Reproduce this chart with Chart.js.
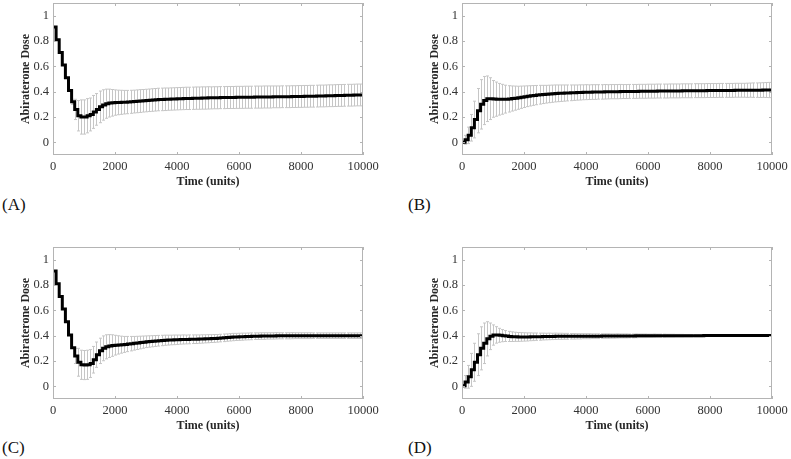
<!DOCTYPE html>
<html>
<head>
<meta charset="utf-8">
<script src="https://cdn.jsdelivr.net/npm/chart.js@4.4.1/dist/chart.umd.min.js"></script>
<style>
  body { margin: 0; background: #fff; width: 791px; height: 459px; overflow: hidden; position: relative; }
  canvas { position: absolute; }
  .lbl { position: absolute; font-family: "Liberation Serif", serif; font-size: 17px; line-height: 17px; color: #111; }
</style>
</head>
<body>
<canvas id="cA" width="395" height="190" style="left:0;top:0"></canvas>
<canvas id="cB" width="395" height="190" style="left:409px;top:0"></canvas>
<canvas id="cC" width="395" height="190" style="left:0;top:244px"></canvas>
<canvas id="cD" width="395" height="190" style="left:409px;top:244px"></canvas>
<div class="lbl" style="left:2px;top:196px">(A)</div>
<div class="lbl" style="left:408px;top:196px">(B)</div>
<div class="lbl" style="left:2px;top:439px">(C)</div>
<div class="lbl" style="left:408px;top:439px">(D)</div>
<script>
// ---------- DATA ----------
const times = [0,
  100,200,300,400,500,600,700,800,900,1000,
  1100,1200,1300,1400,1500,1600,1700,1800,1900,2000,
  2100,2200,2300,2400,2500,2600,2700,2800,2900,3000,
  3100,3200,3300,3400,3500,3600,3700,3800,3900,4000,
  4100,4200,4300,4400,4500,4600,4700,4800,4900,5000,
  5100,5200,5300,5400,5500,5600,5700,5800,5900,6000,
  6100,6200,6300,6400,6500,6600,6700,6800,6900,7000,
  7100,7200,7300,7400,7500,7600,7700,7800,7900,8000,
  8100,8200,8300,8400,8500,8600,8700,8800,8900,9000,
  9100,9200,9300,9400,9500,9600,9700,9800,9900,10000];

const xTicks = [0, 2000, 4000, 6000, 8000, 10000];
const yTicks = [0, 0.2, 0.4, 0.6, 0.8, 1];

// (A)
const meanA = [0.91,
  0.81,0.71,0.61,0.51,0.41,0.32,0.26,0.21,0.20,0.20,
  0.21,0.22,0.24,0.26,0.28,0.295,0.305,0.31,0.312,0.314,
  0.315,0.316,0.317,0.318,0.32,0.322,0.324,0.326,0.328,0.33,
  0.332,0.334,0.336,0.338,0.339,0.34,0.341,0.342,0.343,0.344,
  0.345,0.346,0.347,0.347,0.348,0.349,0.349,0.35,0.35,0.351,
  0.351,0.352,0.352,0.353,0.353,0.354,0.354,0.354,0.355,0.355,
  0.355,0.356,0.356,0.356,0.357,0.357,0.357,0.358,0.358,0.358,
  0.359,0.359,0.359,0.36,0.36,0.36,0.361,0.361,0.362,0.362,
  0.363,0.363,0.364,0.364,0.365,0.366,0.366,0.367,0.368,0.368,
  0.369,0.37,0.37,0.371,0.372,0.372,0.373,0.374,0.374,0.375];
const errA = [0,
  0,0,0,0,0,0.02,0.08,0.12,0.135,0.135,
  0.135,0.13,0.13,0.125,0.125,0.12,0.115,0.11,0.105,0.1,
  0.097,0.095,0.093,0.092,0.091,0.09,0.09,0.09,0.089,0.089,
  0.089,0.089,0.089,0.089,0.089,0.089,0.088,0.088,0.088,0.088,
  0.088,0.088,0.088,0.088,0.088,0.088,0.088,0.088,0.088,0.088,
  0.087,0.087,0.087,0.087,0.087,0.087,0.087,0.087,0.087,0.087,
  0.087,0.087,0.087,0.087,0.087,0.087,0.087,0.087,0.087,0.087,
  0.086,0.086,0.086,0.086,0.086,0.086,0.086,0.086,0.086,0.086,
  0.086,0.086,0.086,0.086,0.086,0.086,0.086,0.086,0.086,0.086,
  0.086,0.086,0.086,0.086,0.086,0.086,0.086,0.086,0.086,0.086];

// (B)
const meanB = [0.0,
  0.02,0.055,0.115,0.18,0.25,0.30,0.33,0.344,0.345,0.343,
  0.341,0.34,0.34,0.341,0.343,0.346,0.349,0.352,0.356,0.36,
  0.364,0.367,0.37,0.373,0.376,0.378,0.38,0.382,0.384,0.386,
  0.387,0.388,0.389,0.39,0.391,0.392,0.393,0.394,0.395,0.396,
  0.396,0.397,0.397,0.398,0.398,0.399,0.399,0.4,0.4,0.4,
  0.401,0.401,0.401,0.402,0.402,0.402,0.403,0.403,0.403,0.404,
  0.404,0.404,0.405,0.405,0.405,0.405,0.406,0.406,0.406,0.406,
  0.407,0.407,0.407,0.407,0.408,0.408,0.408,0.408,0.409,0.409,
  0.409,0.409,0.41,0.41,0.41,0.41,0.41,0.411,0.411,0.411,
  0.411,0.411,0.412,0.412,0.412,0.412,0.413,0.413,0.413,0.413];
const errB = [0.01,
  0.035,0.065,0.105,0.145,0.175,0.195,0.19,0.18,0.165,0.145,
  0.135,0.125,0.118,0.11,0.104,0.099,0.095,0.091,0.088,0.085,
  0.082,0.08,0.078,0.076,0.074,0.072,0.07,0.069,0.068,0.067,
  0.066,0.065,0.064,0.063,0.062,0.061,0.06,0.06,0.059,0.059,
  0.058,0.058,0.058,0.057,0.057,0.057,0.056,0.056,0.056,0.056,
  0.056,0.055,0.055,0.055,0.055,0.055,0.055,0.055,0.055,0.055,
  0.055,0.055,0.055,0.055,0.055,0.055,0.055,0.055,0.055,0.055,
  0.055,0.055,0.055,0.055,0.055,0.055,0.055,0.055,0.055,0.055,
  0.055,0.055,0.055,0.055,0.055,0.055,0.055,0.055,0.055,0.055,
  0.055,0.056,0.056,0.057,0.057,0.058,0.058,0.059,0.06,0.06];

// (C)
const meanC = [0.91,
  0.81,0.71,0.61,0.51,0.405,0.305,0.24,0.19,0.17,0.168,
  0.17,0.18,0.21,0.25,0.28,0.3,0.312,0.318,0.322,0.325,
  0.327,0.329,0.331,0.334,0.337,0.34,0.343,0.346,0.349,0.352,
  0.354,0.356,0.358,0.36,0.362,0.364,0.365,0.366,0.367,0.368,
  0.369,0.37,0.37,0.371,0.372,0.372,0.373,0.374,0.375,0.376,
  0.377,0.378,0.379,0.381,0.383,0.385,0.387,0.389,0.39,0.391,
  0.392,0.393,0.394,0.395,0.396,0.396,0.397,0.397,0.398,0.398,
  0.398,0.399,0.399,0.399,0.399,0.399,0.4,0.4,0.4,0.4,
  0.4,0.4,0.4,0.4,0.4,0.4,0.4,0.4,0.4,0.4,
  0.4,0.4,0.4,0.4,0.4,0.4,0.4,0.4,0.4,0.4];
const errC = [0,
  0,0,0,0,0,0,0.06,0.11,0.115,0.115,
  0.115,0.11,0.105,0.1,0.1,0.098,0.095,0.09,0.085,0.078,
  0.072,0.067,0.063,0.06,0.057,0.054,0.052,0.05,0.048,0.046,
  0.045,0.044,0.043,0.042,0.041,0.04,0.039,0.038,0.038,0.037,
  0.036,0.036,0.035,0.035,0.034,0.034,0.033,0.033,0.032,0.032,
  0.031,0.031,0.03,0.03,0.03,0.029,0.029,0.029,0.028,0.028,
  0.028,0.027,0.027,0.027,0.026,0.026,0.026,0.026,0.025,0.025,
  0.025,0.025,0.024,0.024,0.024,0.024,0.024,0.023,0.023,0.023,
  0.023,0.023,0.023,0.022,0.022,0.022,0.022,0.022,0.022,0.022,
  0.022,0.022,0.022,0.022,0.022,0.022,0.022,0.022,0.022,0.022];

// (D)
const meanD = [0.005,
  0.035,0.075,0.13,0.19,0.25,0.3,0.34,0.375,0.395,0.405,
  0.406,0.403,0.4,0.397,0.394,0.392,0.391,0.39,0.39,0.39,
  0.39,0.391,0.391,0.392,0.392,0.393,0.393,0.394,0.394,0.395,
  0.395,0.395,0.395,0.395,0.395,0.395,0.395,0.395,0.396,0.396,
  0.396,0.396,0.396,0.396,0.397,0.397,0.397,0.397,0.397,0.398,
  0.398,0.398,0.398,0.398,0.398,0.399,0.399,0.399,0.399,0.399,
  0.399,0.4,0.4,0.4,0.4,0.4,0.4,0.4,0.4,0.4,
  0.4,0.4,0.4,0.4,0.4,0.4,0.4,0.401,0.401,0.401,
  0.401,0.401,0.401,0.401,0.401,0.401,0.401,0.401,0.401,0.401,
  0.401,0.401,0.401,0.401,0.401,0.401,0.401,0.401,0.401,0.401];
const errD = [0.01,
  0.05,0.09,0.13,0.15,0.165,0.17,0.16,0.135,0.105,0.08,
  0.065,0.055,0.048,0.043,0.04,0.038,0.036,0.035,0.034,0.033,
  0.032,0.031,0.03,0.029,0.028,0.027,0.026,0.026,0.025,0.025,
  0.024,0.024,0.023,0.023,0.022,0.022,0.021,0.021,0.02,0.02,
  0.02,0.019,0.019,0.019,0.018,0.018,0.018,0.017,0.017,0.017,
  0.016,0.016,0.016,0.015,0.015,0.015,0.014,0.014,0.014,0.013,
  0.013,0.013,0.012,0.012,0.012,0.011,0.011,0.011,0.01,0.01,
  0.01,0.009,0.009,0.009,0.008,0.008,0.008,0.007,0.007,0.007,
  0.006,0.006,0.006,0.006,0.005,0.005,0.005,0.005,0.005,0.005,
  0.005,0.005,0.005,0.005,0.005,0.005,0.005,0.005,0.005,0.005];

// ---------- STYLE ----------
const SERIF = '"Liberation Serif", "Times New Roman", serif';
const AXIS_GRAY = "#b4b4b4";
const BAR_GRAY = "#c6c6c6";

// error bars behind the line, MATLAB-style box with inward ticks on top
const matlabBox = {
    id: "matlabBox",
    beforeDatasetsDraw(chart) {
        const { ctx, chartArea: a, scales: { x, y } } = chart;
        const ds = chart.data.datasets[0];
        ctx.save();
        ctx.beginPath();
        ctx.rect(a.left, a.top, a.right - a.left, a.bottom - a.top);
        ctx.clip();
        ctx.strokeStyle = BAR_GRAY;
        ctx.lineWidth = 1;
        ctx.beginPath();
        ds.errors.forEach((e, i) => {
            if (!e) return;
            const px = Math.round(x.getPixelForValue(times[i])) + 0.5;
            const hi = y.getPixelForValue(ds.means[i] + e);
            const lo = y.getPixelForValue(ds.means[i] - e);
            ctx.moveTo(px, hi); ctx.lineTo(px, lo);
            ctx.moveTo(px - 1.5, hi); ctx.lineTo(px + 1.5, hi);
            ctx.moveTo(px - 1.5, lo); ctx.lineTo(px + 1.5, lo);
        });
        ctx.stroke();
        ctx.restore();
    },
    afterDraw(chart) {
        const { ctx, chartArea: a, scales: { x, y } } = chart;
        ctx.save();
        ctx.strokeStyle = AXIS_GRAY;
        ctx.lineWidth = 1;
        ctx.strokeRect(Math.round(a.left) + 0.5, Math.round(a.top) + 0.5,
            Math.round(a.right - a.left) - 1, Math.round(a.bottom - a.top) - 1);
        ctx.beginPath();
        const tl = 3;
        xTicks.forEach(v => {
            const px = Math.round(x.getPixelForValue(v)) + 0.5;
            ctx.moveTo(px, a.bottom); ctx.lineTo(px, a.bottom - tl);
            ctx.moveTo(px, a.top); ctx.lineTo(px, a.top + tl);
        });
        yTicks.forEach(v => {
            const py = Math.round(y.getPixelForValue(v)) + 0.5;
            ctx.moveTo(a.left, py); ctx.lineTo(a.left + tl, py);
            ctx.moveTo(a.right, py); ctx.lineTo(a.right - tl, py);
        });
        ctx.stroke();
        ctx.restore();
    }
};

function makePanel(id, means, errors) {
    const ctx = document.getElementById(id).getContext("2d");
    new Chart(ctx, {
        type: "line",
        data: {
            datasets: [{
                data: times.map((t, i) => ({ x: t, y: means[i] })),
                means: means,
                errors: errors,
                borderColor: "#000",
                borderWidth: 3,
                pointRadius: 0,
                stepped: true,
                fill: false
            }]
        },
        options: {
            responsive: false,
            animation: false,
            layout: { padding: { top: 3, right: 32, bottom: 1, left: 0 } },
            plugins: {
                legend: { display: false },
                tooltip: { enabled: false }
            },
            scales: {
                x: {
                    type: "linear",
                    min: 0,
                    max: 10000,
                    grid: { display: false, drawTicks: false },
                    border: { display: false },
                    afterBuildTicks: s => { s.ticks = xTicks.map(v => ({ value: v })); },
                    afterFit: s => { s.height = 34; s.paddingLeft = 0; s.paddingRight = 0; },
                    ticks: {
                        color: "#333",
                        padding: 4,
                        maxRotation: 0,
                        autoSkip: false,
                        font: { family: SERIF, size: 12.5 },
                        callback: v => String(v)
                    },
                    title: {
                        display: true,
                        text: "Time (units)",
                        color: "#262626",
                        padding: { top: 0, bottom: 0 },
                        font: { family: SERIF, size: 12, weight: "bold" }
                    }
                },
                y: {
                    min: -0.1,
                    max: 1.1,
                    grid: { display: false, drawTicks: false },
                    border: { display: false },
                    afterBuildTicks: s => { s.ticks = yTicks.map(v => ({ value: v })); },
                    afterFit: s => { s.width = 53; s.paddingTop = 0; s.paddingBottom = 0; },
                    ticks: {
                        color: "#333",
                        padding: 4,
                        font: { family: SERIF, size: 12.5 },
                        callback: v => String(Math.round(v * 10) / 10)
                    },
                    title: {
                        display: true,
                        text: "Abiraterone Dose",
                        color: "#262626",
                        padding: { top: 19, bottom: 0 },
                        font: { family: SERIF, size: 12, weight: "bold" }
                    }
                }
            }
        },
        plugins: [matlabBox]
    });
}

makePanel("cA", meanA, errA);
makePanel("cB", meanB, errB);
makePanel("cC", meanC, errC);
makePanel("cD", meanD, errD);
</script>
</body>
</html>
